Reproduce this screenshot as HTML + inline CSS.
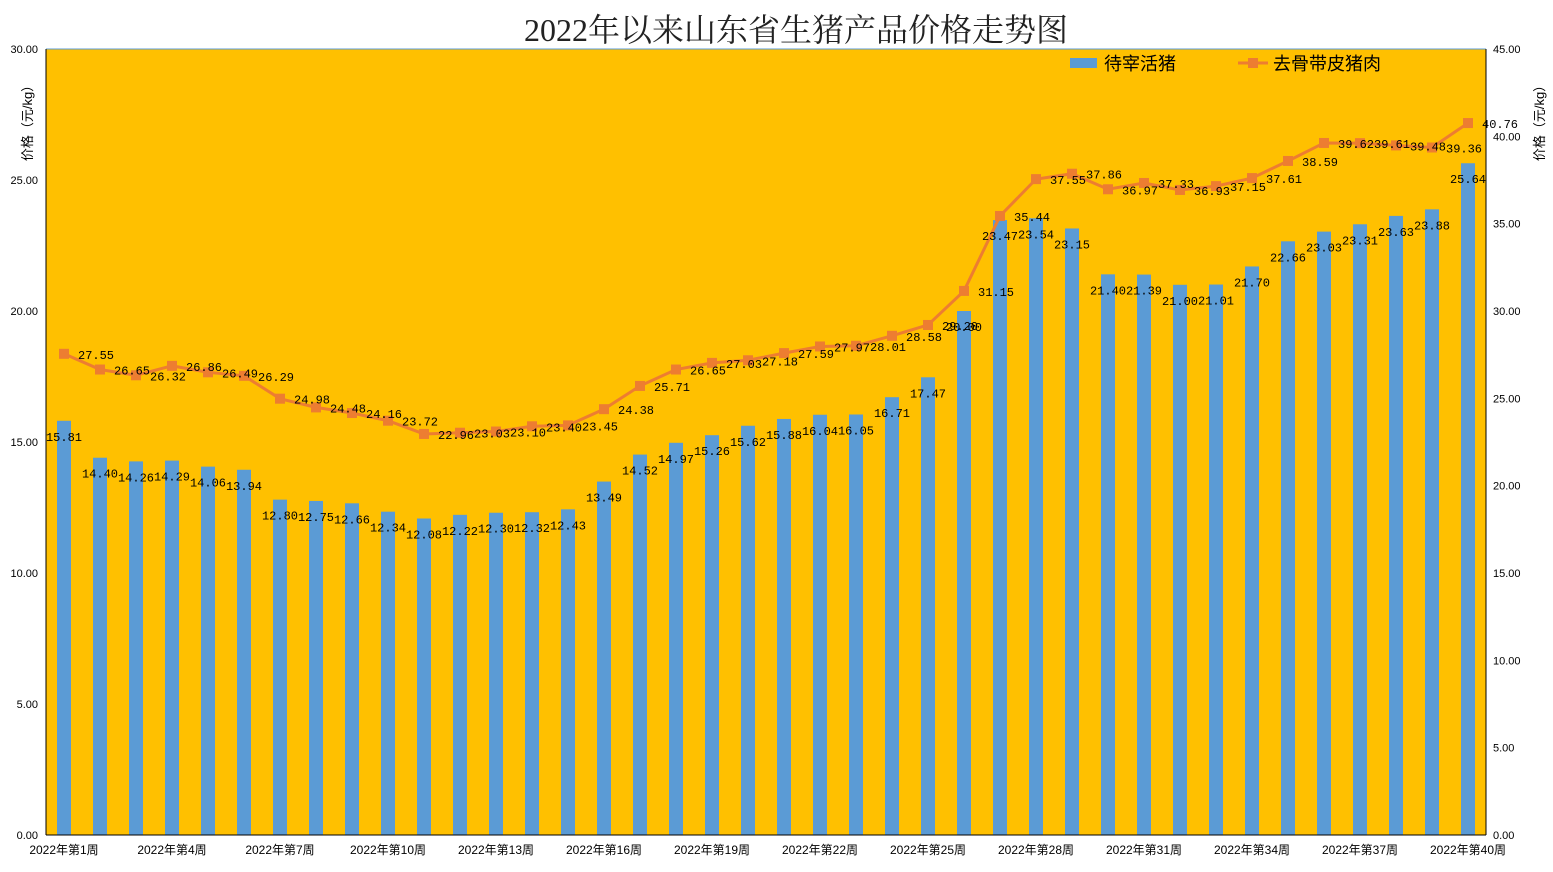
<!DOCTYPE html>
<html><head><meta charset="utf-8"><style>
html,body{margin:0;padding:0;background:#fff;width:1553px;height:872px;overflow:hidden}
svg text{font-family:"Liberation Sans","Noto Sans CJK SC",sans-serif}
</style></head><body>
<svg id="c" width="1553" height="872" xmlns="http://www.w3.org/2000/svg"></svg>
<script>
const bars=[15.81,14.40,14.26,14.29,14.06,13.94,12.80,12.75,12.66,12.34,12.08,12.22,12.30,12.32,12.43,13.49,14.52,14.97,15.26,15.62,15.88,16.04,16.05,16.71,17.47,20.00,23.47,23.54,23.15,21.40,21.39,21.00,21.01,21.70,22.66,23.03,23.31,23.63,23.88,25.64];
const line=[27.55,26.65,26.32,26.86,26.49,26.29,24.98,24.48,24.16,23.72,22.96,23.03,23.10,23.40,23.45,24.38,25.71,26.65,27.03,27.18,27.59,27.97,28.01,28.58,29.20,31.15,35.44,37.55,37.86,36.97,37.33,36.93,37.15,37.61,38.59,39.62,39.61,39.48,39.36,40.76];
const L=46,R=1486,T=49,B=835,H=B-T;
let s='';
s+=`<rect x="${L}" y="${T}" width="${R-L}" height="${H}" fill="#FFC000"/>`;
s+=`<line x1="${L}" y1="${T}" x2="${R}" y2="${T}" stroke="#5B9BD5" stroke-width="1"/>`;
const cx=i=>L+18+36*i;
bars.forEach((v,i)=>{const y=B-v/30*H;s+=`<rect x="${cx(i)-7}" y="${y}" width="14" height="${B-y}" fill="#5B9BD5"/>`;});
let pts=line.map((v,i)=>`${cx(i)},${B-v/45*H}`).join(' ');
s+=`<polyline points="${pts}" fill="none" stroke="#ED7D31" stroke-width="3"/>`;
line.forEach((v,i)=>{const y=B-v/45*H;s+=`<rect x="${cx(i)-5}" y="${y-5}" width="10" height="10" fill="#ED7D31"/>`;});
const mono="font-family:'Liberation Mono',monospace";
bars.forEach((v,i)=>{const y=B-v/30*H;s+=`<text x="${cx(i)}" y="${y+20}" text-anchor="middle" font-size="12" style="${mono}">${v.toFixed(2)}</text>`;});
line.forEach((v,i)=>{const y=B-v/45*H;s+=`<text x="${cx(i)+14}" y="${y+5}" font-size="12" style="${mono}">${v.toFixed(2)}</text>`;});
s+=`<line x1="${L}" y1="${T}" x2="${L}" y2="${B}" stroke="#000"/><line x1="${R}" y1="${T}" x2="${R}" y2="${B}" stroke="#000"/><line x1="${L}" y1="${B}" x2="${R}" y2="${B}" stroke="#000"/>`;
for(let k=0;k<=6;k++){const y=B-k/6*H;s+=`<text x="38" y="${y+4}" text-anchor="end" font-size="11" fill="#000">${(k*5).toFixed(2)}</text>`;}
for(let k=0;k<=9;k++){const y=B-k/9*H;s+=`<text x="1493" y="${y+4}" font-size="11" fill="#000">${(k*5).toFixed(2)}</text>`;}
for(let i=0;i<40;i+=3){s+=`<text x="${cx(i)}" y="854" text-anchor="middle" font-size="12">2022年第${i+1}周</text>`;}
s+=`<text transform="translate(32,120) rotate(-90)" text-anchor="middle" font-size="13">价格（元/kg）</text>`;
s+=`<text transform="translate(1544,120) rotate(-90)" text-anchor="middle" font-size="13">价格（元/kg）</text>`;
s+=`<text x="796" y="41" text-anchor="middle" font-size="32" style="font-family:'Liberation Serif','Noto Serif CJK SC',serif" fill="#222">2022年以来山东省生猪产品价格走势图</text>`;
s+=`<rect x="1070" y="58" width="27" height="10" fill="#5B9BD5"/><text x="1104" y="70" font-size="18">待宰活猪</text>`;
s+=`<line x1="1238" y1="63" x2="1268" y2="63" stroke="#ED7D31" stroke-width="3"/><rect x="1248" y="58" width="10" height="10" fill="#ED7D31"/><text x="1273" y="70" font-size="18">去骨带皮猪肉</text>`;
document.getElementById('c').innerHTML=s;
</script>
</body></html>
